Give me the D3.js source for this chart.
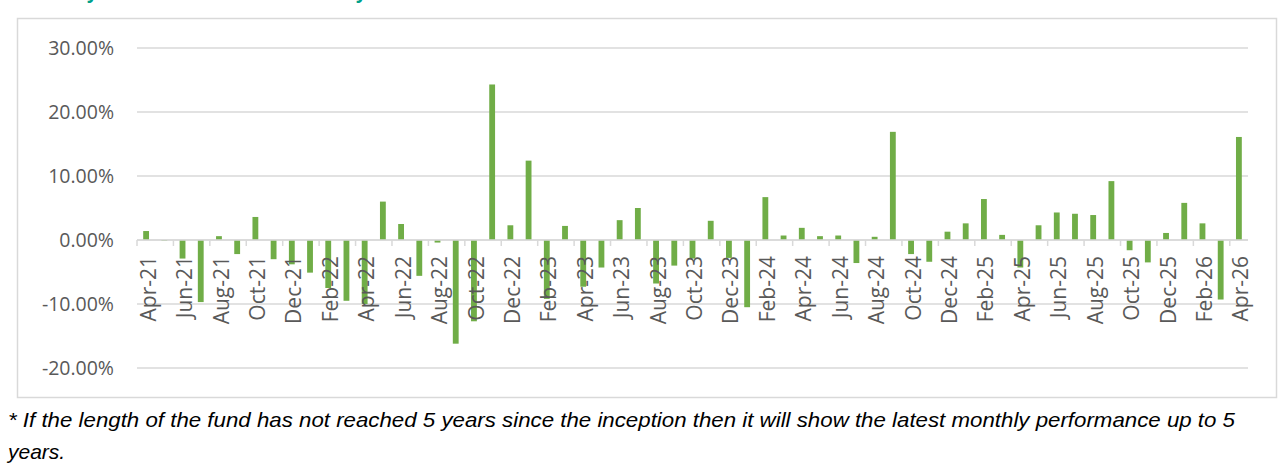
<!DOCTYPE html>
<html lang="en">
<head>
  <meta charset="UTF-8">
  <title>Monthly Performance</title>
  <style>
    body {
      margin: 0;
      padding: 0;
      background-color: #fff;
      overflow: hidden;
    }
  </style>
</head>
<body>
  <script src="https://cdn.jsdelivr.net/npm/d3@7"></script>
  <div id="chart"></div>
  <script>
    // monthly returns, Apr-21 .. Apr-26 (percent)
    var months = ["Apr-21", "May-21", "Jun-21", "Jul-21", "Aug-21", "Sep-21", "Oct-21", "Nov-21", "Dec-21",
      "Jan-22", "Feb-22", "Mar-22", "Apr-22", "May-22", "Jun-22", "Jul-22", "Aug-22", "Sep-22", "Oct-22", "Nov-22", "Dec-22",
      "Jan-23", "Feb-23", "Mar-23", "Apr-23", "May-23", "Jun-23", "Jul-23", "Aug-23", "Sep-23", "Oct-23", "Nov-23", "Dec-23",
      "Jan-24", "Feb-24", "Mar-24", "Apr-24", "May-24", "Jun-24", "Jul-24", "Aug-24", "Sep-24", "Oct-24", "Nov-24", "Dec-24",
      "Jan-25", "Feb-25", "Mar-25", "Apr-25", "May-25", "Jun-25", "Jul-25", "Aug-25", "Sep-25", "Oct-25", "Nov-25", "Dec-25",
      "Jan-26", "Feb-26", "Mar-26", "Apr-26"];

    var returns = [1.4, -0.1, -2.9, -9.7, 0.6, -2.2, 3.6, -3.0, -3.8,
      -5.1, -7.5, -9.5, -10.0, 6.0, 2.5, -5.6, -0.4, -16.2, -12.7, 24.3, 2.3,
      12.4, -9.2, 2.2, -7.3, -4.3, 3.1, 5.0, -6.8, -4.0, -2.9, 3.0, -2.8,
      -10.5, 6.7, 0.7, 1.9, 0.6, 0.7, -3.6, 0.5, 16.9, -2.2, -3.4, 1.3,
      2.6, 6.4, 0.8, -4.3, 2.3, 4.3, 4.1, 3.9, 9.2, -1.6, -3.5, 1.1,
      5.8, 2.6, -9.3, 16.1];

    var yTicks = [30, 20, 10, 0, -10, -20];

    var footLines = [
      "* If the length of the fund has not reached 5 years since the inception then it will show the latest monthly performance up to 5",
      "years."
    ];

    var width = 1280, height = 463;
    var margin = { left: 137, right: 32, top: 48, bottom: 95 };

    var svg = d3.select("#chart").append("svg")
      .attr("width", width)
      .attr("height", height);

    // title (mostly cut off above the frame, as in the source)
    svg.append("text")
      .attr("x", 22)
      .attr("y", -1)
      .attr("fill", "#00a08a")
      .attr("font-family", "Open Sans, sans-serif")
      .attr("font-weight", "bold")
      .attr("font-size", 18)
      .text("Monthly Performance over the last 5 years*");

    // chart frame
    svg.append("rect")
      .attr("x", 17.5)
      .attr("y", 18.5)
      .attr("width", 1259)
      .attr("height", 379)
      .attr("fill", "none")
      .attr("stroke", "#d9d9d9")
      .attr("stroke-width", 1.5);

    var x = d3.scaleBand()
      .domain(months)
      .range([margin.left, width - margin.right])
      .paddingInner(0.68)
      .paddingOuter(0.34);

    var y = d3.scaleLinear()
      .domain([-20, 30])
      .range([368, 48]);

    // gridlines
    svg.append("g")
      .selectAll("line")
      .data(yTicks)
      .enter()
      .append("line")
      .attr("x1", margin.left)
      .attr("x2", width - margin.right)
      .attr("y1", d => y(d))
      .attr("y2", d => y(d))
      .attr("stroke", "#d9d9d9")
      .attr("stroke-width", 1.5);

    // y labels
    svg.append("g")
      .selectAll("text")
      .data(yTicks)
      .enter()
      .append("text")
      .attr("x", 114)
      .attr("y", d => y(d))
      .attr("dy", "0.36em")
      .attr("text-anchor", "end")
      .attr("fill", "#595959")
      .attr("font-family", "Open Sans, sans-serif")
      .attr("font-size", 19.5)
      .text(d => d.toFixed(2) + "%");

    // bars
    var data = months.map((m, i) => ({ month: m, value: returns[i] }));
    svg.append("g")
      .selectAll("rect")
      .data(data)
      .enter()
      .append("rect")
      .attr("x", d => x(d.month))
      .attr("width", x.bandwidth())
      .attr("y", d => y(Math.max(0, d.value)))
      .attr("height", d => Math.abs(y(d.value) - y(0)))
      .attr("fill", "#70ad47");

    // category axis at zero, tick marks every 2 months
    var step = x.step();
    var x0 = margin.left;
    var tickPos = d3.range(0, months.length + 1, 2).map(k => x0 + k * step);
    var axis = svg.append("g");
    axis.append("line")
      .attr("x1", margin.left)
      .attr("x2", width - margin.right)
      .attr("y1", y(0))
      .attr("y2", y(0))
      .attr("stroke", "#d9d9d9")
      .attr("stroke-width", 1.5);
    axis.selectAll(".tk")
      .data(tickPos)
      .enter()
      .append("line")
      .attr("class", "tk")
      .attr("x1", d => d)
      .attr("x2", d => d)
      .attr("y1", y(0))
      .attr("y2", y(0) + 6)
      .attr("stroke", "#d9d9d9")
      .attr("stroke-width", 1.5);

    // month labels, every other one, rotated
    axis.selectAll(".lbl")
      .data(months.filter((m, i) => i % 2 === 0))
      .enter()
      .append("text")
      .attr("class", "lbl")
      .attr("transform", d => "translate(" + (x(d) + x.bandwidth() / 2 + 2) + "," + (y(0) + 16) + ") rotate(-90)")
      .attr("dy", "0.36em")
      .attr("text-anchor", "end")
      .attr("fill", "#595959")
      .attr("font-family", "Open Sans, sans-serif")
      .attr("font-size", 21)
      .text(d => d);

    // footnote
    svg.append("g")
      .selectAll("text")
      .data(footLines)
      .enter()
      .append("text")
      .attr("x", 8)
      .attr("y", (d, i) => 427 + i * 32)
      .attr("fill", "#000")
      .attr("font-family", "Liberation Sans, Arial, sans-serif")
      .attr("font-style", "italic")
      .attr("font-size", 21)
      .attr("textLength", (d, i) => i === 0 ? 1227 : null)
      .attr("lengthAdjust", "spacingAndGlyphs")
      .text(d => d);
  </script>
</body>
</html>
